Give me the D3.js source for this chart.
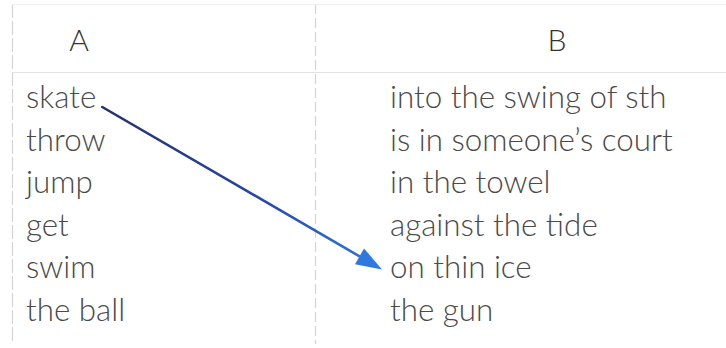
<!DOCTYPE html>
<html>
<head>
<meta charset="utf-8">
<script src="https://cdn.jsdelivr.net/npm/d3@7"></script>
<style>
  html, body { margin: 0; padding: 0; background: #fff; }
  svg { display: block; }
</style>
</head>
<body>
<svg id="chart" width="726" height="348"></svg>
<script>
// ---- data ----
const headers = ["A", "B"];
const columnA = ["skate", "throw", "jump", "get", "swim", "the ball"];
const columnB = ["into the swing of sth", "is in someone\u2019s court", "in the towel", "against the tide", "on thin ice", "the gun"];
const matchFrom = [0];   // row index in column A
const matchTo = [4];     // row index in column B

// ---- layout ----
const W = 726, H = 348;
const svg = d3.select("#chart");
const font = "Lato, 'Open Sans', sans-serif";
const textColor = "#4a4a4a";

const rowY = d3.scaleLinear().domain([0, columnA.length - 1]).range([108, 321]);
const colText = d3.scaleOrdinal().domain(headers).range([26, 390]);
const colHead = d3.scaleOrdinal().domain(headers).range([79, 557]);

// gradient for arrow
const defs = svg.append("defs");
const grad = defs.append("linearGradient")
  .attr("id", "arrowGrad").attr("gradientUnits", "userSpaceOnUse");

// ---- grid lines ----
svg.append("line").attr("x1", 12.5).attr("x2", 12.5).attr("y1", 4).attr("y2", 344)
  .attr("stroke", "#d4d4d4").attr("stroke-width", 1.2).attr("stroke-dasharray", "14,3");
svg.append("line").attr("x1", 315.5).attr("x2", 315.5).attr("y1", 4).attr("y2", 344)
  .attr("stroke", "#d4d4d4").attr("stroke-width", 1.2).attr("stroke-dasharray", "10,4");
svg.append("line").attr("x1", 12).attr("x2", W).attr("y1", 72.5).attr("y2", 72.5)
  .attr("stroke", "#e2e2e2").attr("stroke-width", 1.2);
svg.append("line").attr("x1", 12).attr("x2", W).attr("y1", 4.5).attr("y2", 4.5)
  .attr("stroke", "#f0f0f0").attr("stroke-width", 1);

// ---- headers ----
svg.selectAll("text.head").data(headers).join("text")
  .attr("class", "head")
  .attr("x", d => colHead(d)).attr("y", 51)
  .attr("text-anchor", "middle")
  .attr("font-family", font).attr("font-weight", 300)
  .attr("font-size", 30).attr("fill", "#333")
  .text(d => d);

// fit font size so widest B entry matches reference width
const probe = svg.append("text").attr("font-family", font).attr("font-weight", 300)
  .attr("font-size", 100).text(columnB[1]);
const probeW = probe.node().getComputedTextLength();
probe.remove();
const fs = 100 * 283 / probeW;

const colA = svg.selectAll("text.a").data(columnA).join("text")
  .attr("class", "a")
  .attr("x", colText("A")).attr("y", (d, i) => rowY(i))
  .attr("font-family", font).attr("font-weight", 300)
  .attr("font-size", fs).attr("fill", textColor)
  .text(d => d);

svg.selectAll("text.b").data(columnB).join("text")
  .attr("class", "b")
  .attr("x", colText("B")).attr("y", (d, i) => rowY(i))
  .attr("font-family", font).attr("font-weight", 300)
  .attr("font-size", fs).attr("fill", textColor)
  .text(d => d);

// ---- arrows ----
matchFrom.forEach((fi, k) => {
  const ti = matchTo[k];
  const node = colA.nodes()[fi];
  const x0 = colText("A") + node.getComputedTextLength() + 6;
  const y0 = rowY(fi) - 1;
  const x1 = colText("B") - 8;
  const y1 = rowY(ti) - 9;
  grad.attr("x1", x0).attr("y1", y0).attr("x2", x1).attr("y2", y1);
  grad.append("stop").attr("offset", "0%").attr("stop-color", "#23306f");
  grad.append("stop").attr("offset", "55%").attr("stop-color", "#2846a8");
  grad.append("stop").attr("offset", "100%").attr("stop-color", "#2f7ae2");

  const ang = Math.atan2(y1 - y0, x1 - x0);
  const headLen = 26, headW = 9;
  const bx = x1 - headLen * Math.cos(ang), by = y1 - headLen * Math.sin(ang);
  svg.append("line")
    .attr("x1", x0).attr("y1", y0).attr("x2", bx + 4 * Math.cos(ang)).attr("y2", by + 4 * Math.sin(ang))
    .attr("stroke", "url(#arrowGrad)").attr("stroke-width", 2.6).attr("stroke-linecap", "round");
  const px = -Math.sin(ang), py = Math.cos(ang);
  const pts = [[x1, y1], [bx + headW * px, by + headW * py], [bx - headW * px, by - headW * py]];
  svg.append("path")
    .attr("d", d3.line()(pts) + "Z")
    .attr("fill", "#2f78e0");
});
</script>
</body>
</html>
